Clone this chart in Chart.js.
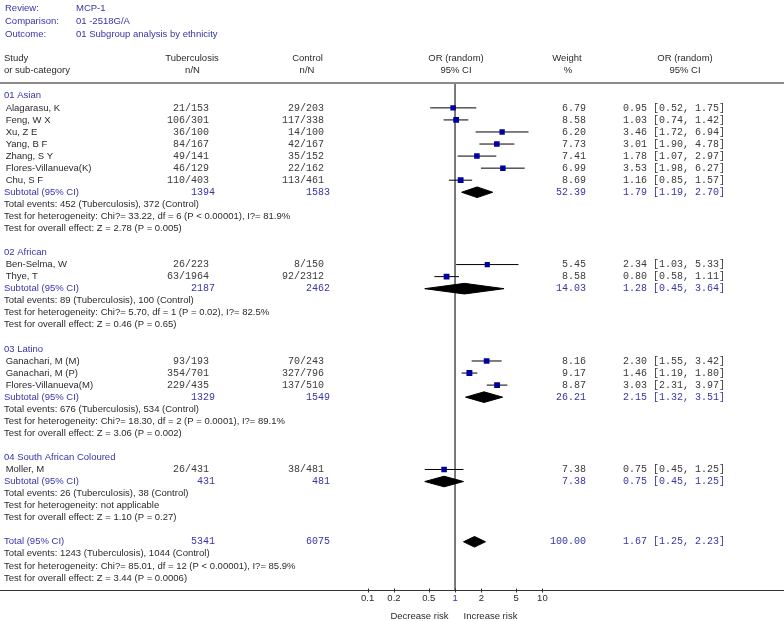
<!DOCTYPE html>
<html><head><meta charset="utf-8">
<script src="https://cdn.jsdelivr.net/npm/chart.js@4"></script>
<style>html,body{margin:0;padding:0;background:#fff}#wrap{width:784px;height:621px;position:relative}</style>
</head><body><div id="wrap"><canvas id="c"></canvas></div>
<script>
// ---------- data ----------
const headerLabels = ['Review:', 'Comparison:', 'Outcome:'];
const headerValues = ['MCP-1', '01 -2518G/A', '01 Subgroup analysis by ethnicity'];
const groupNames = ['01 Asian', '02 African', '03 Latino', '04 South African Coloured'];
const studyNames = ['Alagarasu, K', 'Feng, W X', 'Xu, Z E', 'Yang, B F', 'Zhang, S Y', 'Flores-Villanueva(K)', 'Chu, S F',
  'Ben-Selma, W', 'Thye, T', 'Ganachari, M (M)', 'Ganachari, M (P)', 'Flores-Villanueva(M)', 'Moller, M'];
const studyGroup = [0, 0, 0, 0, 0, 0, 0, 1, 1, 2, 2, 2, 3];
const tbEvents = [21, 106, 36, 84, 49, 46, 110, 26, 63, 93, 354, 229, 26];
const tbTotal = [153, 301, 100, 167, 141, 129, 403, 223, 1964, 193, 701, 435, 431];
const ctrlEvents = [29, 117, 14, 42, 35, 22, 113, 8, 92, 70, 327, 137, 38];
const ctrlTotal = [203, 338, 100, 167, 152, 162, 461, 150, 2312, 243, 796, 510, 481];
const weights = [6.79, 8.58, 6.20, 7.73, 7.41, 6.99, 8.69, 5.45, 8.58, 8.16, 9.17, 8.87, 7.38];
const orEst = [0.95, 1.03, 3.46, 3.01, 1.78, 3.53, 1.16, 2.34, 0.80, 2.30, 1.46, 3.03, 0.75];
const orLow = [0.52, 0.74, 1.72, 1.90, 1.07, 1.98, 0.85, 1.03, 0.58, 1.55, 1.19, 2.31, 0.45];
const orHigh = [1.75, 1.42, 6.94, 4.78, 2.97, 6.27, 1.57, 5.33, 1.11, 3.42, 1.80, 3.97, 1.25];

const subTb = [1394, 2187, 1329, 431];
const subCtrl = [1583, 2462, 1549, 481];
const subWeight = [52.39, 14.03, 26.21, 7.38];
const subOr = [1.79, 1.28, 2.15, 0.75];
const subLow = [1.19, 0.45, 1.32, 0.45];
const subHigh = [2.70, 3.64, 3.51, 1.25];
const subEvents = ['Total events: 452 (Tuberculosis), 372 (Control)', 'Total events: 89 (Tuberculosis), 100 (Control)',
  'Total events: 676 (Tuberculosis), 534 (Control)', 'Total events: 26 (Tuberculosis), 38 (Control)'];
const subHet = ['Test for heterogeneity: Chi?= 33.22, df = 6 (P < 0.00001), I?= 81.9%',
  'Test for heterogeneity: Chi?= 5.70, df = 1 (P = 0.02), I?= 82.5%',
  'Test for heterogeneity: Chi?= 18.30, df = 2 (P = 0.0001), I?= 89.1%',
  'Test for heterogeneity: not applicable'];
const subOverall = ['Test for overall effect: Z = 2.78 (P = 0.005)', 'Test for overall effect: Z = 0.46 (P = 0.65)',
  'Test for overall effect: Z = 3.06 (P = 0.002)', 'Test for overall effect: Z = 1.10 (P = 0.27)'];

const totTb = 5341, totCtrl = 6075, totWeight = 100.00, totOr = 1.67, totLow = 1.25, totHigh = 2.23;
const totInfo = ['Total events: 1243 (Tuberculosis), 1044 (Control)',
  'Test for heterogeneity: Chi?= 85.01, df = 12 (P < 0.00001), I?= 85.9%',
  'Test for overall effect: Z = 3.44 (P = 0.0006)'];

const tickValues = [0.1, 0.2, 0.5, 1, 2, 5, 10];
const tickLabels = ['0.1', '0.2', '0.5', '1', '2', '5', '10'];

// ---------- row layout ----------
let idx = 0;
const groupRow = [], studyRow = [], subRow = [], infoRows = [];
groupNames.forEach((g, gi) => {
  groupRow[gi] = idx++;
  studyNames.forEach((s, si) => { if (studyGroup[si] === gi) studyRow[si] = idx++; });
  subRow[gi] = idx++;
  infoRows.push({ i: idx++, t: subEvents[gi] });
  infoRows.push({ i: idx++, t: subHet[gi] });
  infoRows.push({ i: idx++, t: subOverall[gi] });
  idx++;
});
const totRow = idx++;
totInfo.forEach(t => infoRows.push({ i: idx++, t }));

const f2 = v => v.toFixed(2);
const orText = (e, l, h) => f2(e) + ' [' + f2(l) + ', ' + f2(h) + ']';

// ---------- datasets ----------
const ciData = [];
studyNames.forEach((s, i) => {
  ciData.push({ x: orLow[i], y: studyRow[i] }, { x: orHigh[i], y: studyRow[i] }, { x: null, y: null });
});
const ptData = studyNames.map((s, i) => ({ x: orEst[i], y: studyRow[i] }));
const ptRadius = weights.map(w => 2.9 + w * 0.14);

const diamonds = [];
groupNames.forEach((g, gi) => diamonds.push({ e: subOr[gi], l: subLow[gi], h: subHigh[gi], r: subRow[gi] }));
diamonds.push({ e: totOr, l: totLow, h: totHigh, r: totRow });
const halfH = 0.44;
const diamondSets = diamonds.map(d => ({
  type: 'line',
  data: [{ x: d.l, y: d.r }, { x: d.e, y: d.r - halfH }, { x: d.h, y: d.r }, { x: d.e, y: d.r + halfH }, { x: d.l, y: d.r }],
  borderColor: '#000', backgroundColor: '#000', borderWidth: 1, pointRadius: 0, fill: 'shape', tension: 0, order: 1
}));

const BLUE = '#3535a8';
const DARK = '#2a2a2a';
const NUM = '#3a3a3a';
const SANS = '9.5px "Liberation Sans", Arial, sans-serif';
const MONO = '10px "Liberation Mono", "Courier New", monospace';

const textPlugin = {
  id: 'forestText',
  afterDraw(chart) {
    const ctx = chart.ctx, ys = chart.scales.y, xs = chart.scales.x;
    const Y = v => ys.getPixelForValue(v);
    const W = chart.width;
    ctx.save();
    ctx.textBaseline = 'middle';
    const txt = (t, x, y, font, color, align) => { ctx.font = font; ctx.fillStyle = color; ctx.textAlign = align || 'left'; ctx.fillText(t, x, y); };
    // header
    const hy = [-7.25, -6.2, -5.1];
    headerLabels.forEach((t, i) => { txt(t, 5, Y(hy[i]), SANS, BLUE); txt(headerValues[i], 76, Y(hy[i]), SANS, BLUE); });
    const r1 = Y(-3.07), r2 = Y(-2.08);
    txt('Study', 4, r1, SANS, DARK); txt('or sub-category', 4, r2, SANS, DARK);
    txt('Tuberculosis', 192, r1, SANS, DARK, 'center'); txt('n/N', 192.5, r2, SANS, DARK, 'center');
    txt('Control', 307.5, r1, SANS, DARK, 'center'); txt('n/N', 307, r2, SANS, DARK, 'center');
    txt('OR (random)', 456, r1, SANS, DARK, 'center'); txt('95% CI', 456, r2, SANS, DARK, 'center');
    txt('Weight', 567, r1, SANS, DARK, 'center'); txt('%', 568, r2, SANS, DARK, 'center');
    txt('OR (random)', 685, r1, SANS, DARK, 'center'); txt('95% CI', 685, r2, SANS, DARK, 'center');
    // top rule
    ctx.strokeStyle = '#8a8a8a'; ctx.lineWidth = 2;
    ctx.beginPath(); ctx.moveTo(0, Math.round(Y(-1.1))); ctx.lineTo(W, Math.round(Y(-1.1))); ctx.stroke();
    // groups
    groupNames.forEach((g, gi) => {
      txt(g, 4, Y(groupRow[gi]), SANS, BLUE);
      const y = Y(subRow[gi]);
      txt('Subtotal (95% CI)', 4, y, SANS, BLUE);
      txt(String(subTb[gi]), 215, y, MONO, BLUE, 'right');
      txt(String(subCtrl[gi]), 330, y, MONO, BLUE, 'right');
      txt(f2(subWeight[gi]), 586, y, MONO, BLUE, 'right');
      txt(orText(subOr[gi], subLow[gi], subHigh[gi]), 623, y, MONO, BLUE);
    });
    studyNames.forEach((s, i) => {
      const y = Y(studyRow[i]);
      txt(' ' + s, 3, y, SANS, DARK);
      txt(tbEvents[i] + '/' + tbTotal[i], 209, y, MONO, NUM, 'right');
      txt(ctrlEvents[i] + '/' + ctrlTotal[i], 324, y, MONO, NUM, 'right');
      txt(f2(weights[i]), 586, y, MONO, NUM, 'right');
      txt(orText(orEst[i], orLow[i], orHigh[i]), 623, y, MONO, NUM);
    });
    infoRows.forEach(r => txt(r.t, 4, Y(r.i), SANS, DARK));
    const ty = Y(totRow);
    txt('Total (95% CI)', 4, ty, SANS, BLUE);
    txt(String(totTb), 215, ty, MONO, BLUE, 'right');
    txt(String(totCtrl), 330, ty, MONO, BLUE, 'right');
    txt(f2(totWeight), 586, ty, MONO, BLUE, 'right');
    txt(orText(totOr, totLow, totHigh), 623, ty, MONO, BLUE);
    // full-width axis line and tick marks crossing it
    const ay = Math.round(chart.chartArea.bottom) + 0.5;
    ctx.strokeStyle = '#333'; ctx.lineWidth = 1;
    ctx.beginPath(); ctx.moveTo(0, ay); ctx.lineTo(W, ay); ctx.stroke();
    tickValues.forEach(v => { const px = Math.round(xs.getPixelForValue(v)) + 0.5; ctx.beginPath(); ctx.moveTo(px, ay - 2); ctx.lineTo(px, ay + 2); ctx.stroke(); });
    // axis labels
    const ly = Y(43.2);
    txt('Decrease risk', xs.getPixelForValue(1) - 6.5, ly, SANS, DARK, 'right');
    txt('Increase risk', xs.getPixelForValue(1) + 8.5, ly, SANS, DARK, 'left');
    ctx.restore();
  }
};

new Chart(document.getElementById('c'), {
  type: 'scatter',
  data: {
    datasets: [
      { type: 'scatter', data: ptData, pointStyle: 'rect', pointRadius: ptRadius, backgroundColor: '#0000a0', borderColor: '#0000a0', borderWidth: 0, order: 0 },
      { type: 'line', data: ciData, borderColor: '#000', borderWidth: 1, pointRadius: 0, spanGaps: false, order: 2 },
      { type: 'line', data: [{ x: 1, y: -1.0 }, { x: 1, y: 41 }], borderColor: '#222', borderWidth: 1.2, pointRadius: 0, order: 3 },
      ...diamondSets
    ]
  },
  options: {
    responsive: true, maintainAspectRatio: false, animation: false,
    layout: { padding: 0 },
    plugins: { legend: { display: false }, tooltip: { enabled: false } },
    scales: {
      x: {
        type: 'logarithmic', position: 'bottom',
        min: Math.pow(10, -5.161), max: Math.pow(10, 3.718),
        afterBuildTicks: s => { s.ticks = tickValues.map(v => ({ value: v })); },
        afterFit: s => { s.height = 31; s.paddingLeft = 0; s.paddingRight = 0; },
        ticks: {
          autoSkip: false, maxRotation: 0, padding: 3,
          font: { family: '"Liberation Sans", Arial, sans-serif', size: 9.5 },
          color: c => (c.tick && c.tick.value === 1) ? BLUE : DARK,
          callback: (v, i) => tickLabels[i]
        },
        grid: { display: false, drawTicks: false, tickLength: 0 },
        border: { display: false }
      },
      y: { type: 'linear', display: false, reverse: true, min: -7.603, max: 41.0 }
    }
  },
  plugins: [textPlugin]
});
</script></body></html>
